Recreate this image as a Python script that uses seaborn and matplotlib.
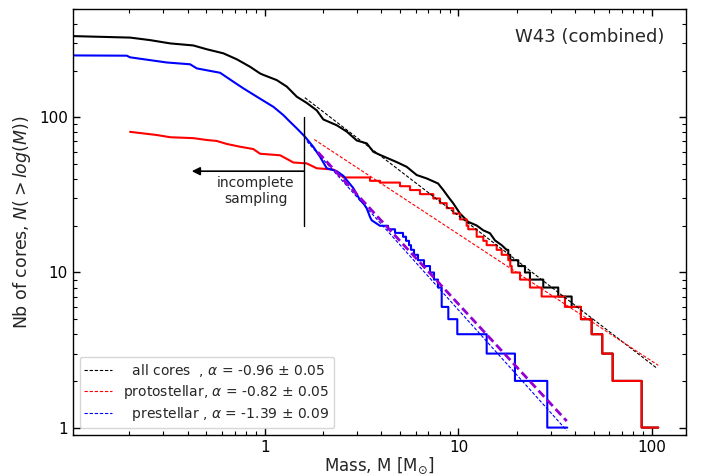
import numpy as np
import pandas as pd
import matplotlib
matplotlib.use("Agg")
import matplotlib.pyplot as plt
import seaborn as sns
from matplotlib.ticker import FuncFormatter, LogLocator, NullFormatter

# ---------------- data ----------------
# smooth upper part of each cumulative curve: (mass, N)
all_head_mass = [0.10, 0.202, 0.256, 0.325, 0.428, 0.502, 0.611, 0.717, 0.840, 0.946, 0.983,
                 1.153, 1.299, 1.463, 1.647, 1.855, 2.006, 2.352, 2.650, 2.984, 3.360, 3.635,
                 3.935, 4.799, 5.405, 6.085, 6.853, 7.84, 8.35, 8.86, 9.40, 10.18, 11.23,
                 12.41, 13.43, 14.54, 15.43, 16.71, 17.4]
all_head_n = [334.6, 327, 315, 300, 291, 275, 259, 237, 212, 192, 188,
              174, 158, 136, 124, 111, 97, 89, 81, 71, 68, 60,
              57.3, 51.5, 48, 42.5, 40.4, 37.5, 34, 30.7, 27.9, 24, 21.2,
              20.1, 18.7, 17.9, 16.1, 15, 14.3]
# step part: mass where a new count level starts, and that level
all_step_mass = [17.73, 18.07, 18.5, 20.35, 22.03, 23.38, 27.39, 32.73, 38.38, 42.86,
                 48.68, 55.21, 62.48, 88.18, 107.4]
all_step_n = [14, 13, 12, 11, 10, 9, 8, 7, 6, 5, 4, 3, 2, 1, 1]

proto_head_mass = [0.2018, 0.277, 0.325, 0.428, 0.502, 0.565, 0.637, 0.746, 0.873, 0.946,
                   1.199, 1.30, 1.405, 1.647, 1.855, 2.259, 2.40]
proto_head_n = [80.7, 77, 74.5, 73.5, 71.5, 70.5, 67.4, 64.7, 62.5, 58.3,
                57, 54, 51.2, 50.5, 47, 46.1, 44]
proto_step_mass = [2.545, 3.494, 3.935, 4.99, 5.621, 6.329, 7.413, 8.026, 8.693, 9.402,
                   10.18, 11.02, 11.23, 12.41, 13.43, 13.98, 15.74, 16.71, 18.07, 18.5,
                   18.82, 20.77, 23.38, 26.87, 35.44, 42.86, 48.68, 55.21, 62.48, 88.18, 107.4]
proto_step_n = [41, 39, 38, 36, 34, 32, 30, 28, 26, 24,
                22, 20, 19, 17, 16, 15, 14, 13, 12, 11,
                10, 9, 8, 7, 6, 5, 4, 3, 2, 1, 1]

pre_head_mass = [0.10, 0.194, 0.2018, 0.256, 0.312, 0.412, 0.446, 0.588, 0.688, 0.775, 0.946,
                 1.108, 1.247, 1.35, 1.463, 1.614, 1.781, 1.929, 2.089, 2.352, 2.545, 2.650,
                 2.866, 3.103, 3.227, 3.360, 3.494, 3.566]
pre_head_n = [251, 250, 244, 234, 226, 220, 207, 194, 170, 154, 132,
              117, 103.5, 93.7, 85, 75, 64.6, 55.7, 47, 45, 42, 39.4,
              35, 29.3, 28, 25.9, 22.8, 21.7]
pre_step_mass = [3.935, 4.329, 4.703, 5.171, 5.36, 5.555, 5.688, 5.894, 6.18, 6.637,
                 7.128, 7.475, 7.838, 8.19, 8.861, 9.859, 13.98, 19.56, 28.72, 36.42]
pre_step_n = [20, 19, 18, 17, 16, 15, 14, 13, 12, 11,
              10, 9, 8, 6, 5, 4, 3, 2, 1, 1]

# power-law fits  N = A * M**alpha over a mass range
fit_names = ["all", "proto", "pre"]
fit_alpha = [-0.96, -0.82, -1.39]
fit_alpha_err = [0.05, 0.05, 0.09]
fit_amp = [211.8, 116.6, 140.6]
fit_mmin = [1.61, 1.80, 1.65]
fit_mmax = [105.4, 107.4, 36.2]
fit_labels = ["  all cores  , $\\alpha$ = -0.96 $\\pm$ 0.05",
              "protostellar, $\\alpha$ = -0.82 $\\pm$ 0.05",
              "  prestellar , $\\alpha$ = -1.39 $\\pm$ 0.09"]
fit_colors = ["black", "red", "blue"]

# additional (purple) prestellar fit
alt_alpha = -1.35
alt_amp = 140.0
alt_mmin = 1.88
alt_mmax = 36.2

# completeness marker
compl_mass = 1.6
compl_n_range = [20, 100]
arrow_n = 45
arrow_tip_mass = 0.42
note_mass, note_n = 0.90, 33.5

# ---------------- figure ----------------
sns.set_style("ticks")
plt.rcParams["font.family"] = ["DejaVu Sans"]
plt.rcParams["mathtext.fontset"] = "dejavusans"

fig = plt.figure(figsize=(7.07, 4.76), dpi=100)
ax = fig.add_axes([0.1028, 0.0868, 0.8672, 0.8943])
ax.set_xscale("log")
ax.set_yscale("log")


def step_vertices(mass, n):
    xs, ys = [], []
    for i in range(len(mass)):
        if i > 0:
            xs.append(mass[i]); ys.append(n[i - 1])
        xs.append(mass[i]); ys.append(n[i])
    return xs, ys


def curve(head_m, head_n, step_m, step_n):
    sx, sy = step_vertices(step_m, step_n)
    return pd.DataFrame({"mass": list(head_m) + sx, "n": list(head_n) + sy})


curves = [
    (curve(all_head_mass, all_head_n, all_step_mass, all_step_n), "black"),
    (curve(proto_head_mass, proto_head_n, proto_step_mass, proto_step_n), "red"),
    (curve(pre_head_mass, pre_head_n, pre_step_mass, pre_step_n), "blue"),
]
for df, col in curves:
    sns.lineplot(data=df, x="mass", y="n", sort=False, estimator=None,
                 color=col, lw=1.5, ax=ax)

handles = []
for a, amp, lo, hi, col, lab in zip(fit_alpha, fit_amp, fit_mmin, fit_mmax, fit_colors, fit_labels):
    m = np.geomspace(lo, hi, 60)
    dfit = pd.DataFrame({"mass": m, "n": amp * m ** a})
    sns.lineplot(data=dfit, x="mass", y="n", sort=False, estimator=None,
                 color=col, lw=0.8, linestyle="--", ax=ax)
    ln = ax.lines[-1]
    ln.set_dashes((3.0, 1.6))
    ln.set_label(lab)
    handles.append(ln)

m = np.geomspace(alt_mmin, alt_mmax, 60)
dalt = pd.DataFrame({"mass": m, "n": alt_amp * m ** alt_alpha})
sns.lineplot(data=dalt, x="mass", y="n", sort=False, estimator=None,
             color="darkviolet", lw=2.0, linestyle="--", ax=ax)
ax.lines[-1].set_dashes((3.0, 1.5))

# incompleteness marker
ax.plot([compl_mass, compl_mass], compl_n_range, color="black", lw=1.0)
ax.annotate("", xy=(arrow_tip_mass, arrow_n), xytext=(compl_mass, arrow_n),
            arrowprops=dict(arrowstyle="-|>", color="black", lw=1.2, mutation_scale=12,
                            shrinkA=0, shrinkB=0))
ax.text(note_mass, note_n, "incomplete\nsampling", ha="center", va="center",
        fontsize=10, linespacing=1.15)

ax.text(0.965, 0.955, "W43 (combined)", transform=ax.transAxes, ha="right", va="top",
        fontsize=13)

ax.set_xlim(0.102, 149)
ax.set_ylim(0.9, 500)

fmt = FuncFormatter(lambda v, p: f"{v:g}")
ax.xaxis.set_major_locator(LogLocator(base=10))
ax.yaxis.set_major_locator(LogLocator(base=10))
ax.xaxis.set_major_formatter(fmt)
ax.yaxis.set_major_formatter(fmt)
ax.xaxis.set_minor_formatter(NullFormatter())
ax.yaxis.set_minor_formatter(NullFormatter())
ax.tick_params(which="both", direction="in", top=True, right=True, colors="black")
ax.tick_params(which="major", length=5, width=1.0, labelsize=11)
ax.tick_params(which="minor", length=3, width=0.8)
for s in ax.spines.values():
    s.set_linewidth(1.0)
    s.set_color("black")

ax.set_xlabel("Mass, M [M$_{\\odot}$]", fontsize=12, labelpad=0.5)
ax.set_ylabel("Nb of cores, $N(>log(M))$", fontsize=12.5)

ax.legend(handles=handles, loc="lower left", fontsize=10, handlelength=2.0,
          labelspacing=0.3, borderpad=0.35)

fig.savefig("out.png", dpi=100)
